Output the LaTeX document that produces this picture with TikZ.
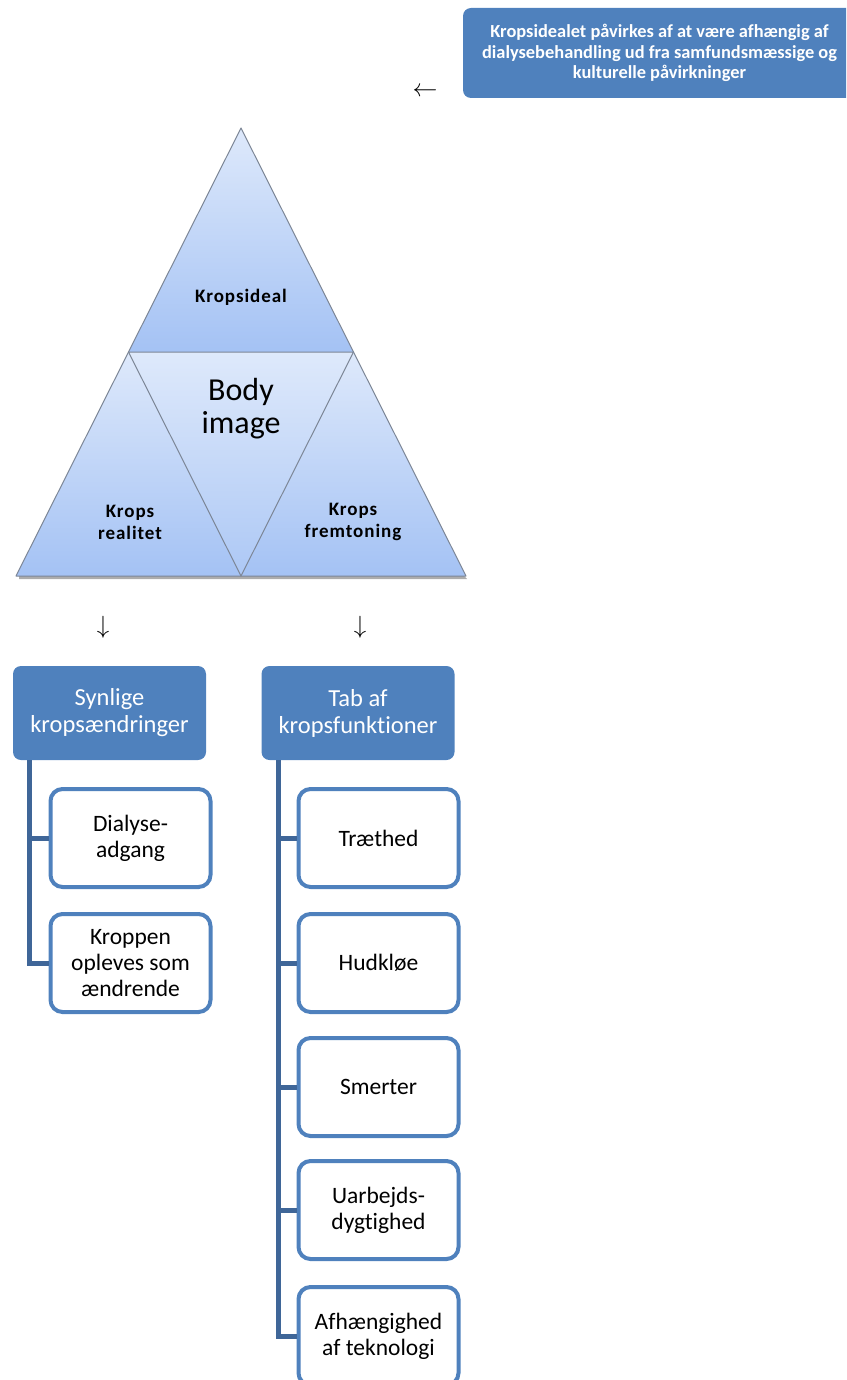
\documentclass[tikz,border=0pt]{standalone}
\usepackage{fontspec}
\setmainfont{Carlito}[Ligatures=NoCommon]
\usetikzlibrary{calc}

\definecolor{hdrblue}{HTML}{4F81BD}
\definecolor{connblue}{HTML}{3F6698}
\definecolor{tritop}{HTML}{DEE9FB}
\definecolor{tribot}{HTML}{A4C2F4}
\definecolor{triedge}{HTML}{7C8696}

\tikzset{
  header/.style={draw=none, fill=hdrblue, rounded corners=8pt, text=white,
    align=center, minimum width=193pt, minimum height=94pt, inner sep=2pt,
    font=\fontsize{24.5}{27}\selectfont},
  item/.style={draw=hdrblue, line width=4pt, fill=white, rounded corners=12pt,
    align=center, minimum width=160pt, minimum height=98pt, inner sep=2pt,
    font=\fontsize{23.5}{26}\selectfont},
  note/.style={fill=hdrblue, rounded corners=8pt, text=white, align=center,
    minimum width=393pt, minimum height=90pt, inner sep=2pt,
    font=\bfseries\fontsize{18.4}{20.5}\selectfont},
  conn/.style={draw=connblue, line width=5pt, line join=miter},
  triface/.style={top color=tritop, bottom color=tribot},
  tripart/.style={draw=triedge, line width=1pt, line join=round},
  trilabel/.style={align=center,
    font=\bfseries\fontsize{19}{22}\selectfont\addfontfeature{LetterSpace=5}},
  textarrow/.style={inner sep=0pt, font=\fontsize{31}{31}\selectfont},
}

\begin{document}
\begin{tikzpicture}[x=1pt, y=-1pt]
\useasboundingbox (0,0) rectangle (846,1380);
\clip (0,0) rectangle (846,1380);

% note box at the top right
\node[note] (note) at (659.5,53)
  {Kropsidealet påvirkes af at være afhængig af\\
   dialysebehandling ud fra samfundsmæssige og\\
   kulturelle påvirkninger};
\node[textarrow] (larr) at (425,92) {$\leftarrow$};

% triangle corners
\coordinate (apex) at (241,128);
\coordinate (bl) at (16,576);
\coordinate (br) at (466,576);
\coordinate (ml) at (128.5,352);
\coordinate (mr) at (353.5,352);
\coordinate (bm) at (241,576);

% soft shadow under the triangle
\fill[gray!65] ($(bl)+(3,3)$) -- ($(br)+(1,3)$) -- ($(br)+(-2,0)$) -- ($(bl)+(3,0)$) -- cycle;

% the four sub-triangles
\shade[triface] (apex) -- (ml) -- (mr) -- cycle;
\shade[triface] (ml) -- (bl) -- (bm) -- cycle;
\shade[triface] (mr) -- (bm) -- (br) -- cycle;
\shade[top color=tritop, bottom color=tribot!85!tritop] (ml) -- (mr) -- (bm) -- cycle;

\draw[tripart] (apex) -- (bl) -- (br) -- cycle;
\draw[tripart] (ml) -- (mr) -- (bm) -- cycle;

\node[trilabel] (ideal) at (241,297) {Kropsideal};
\node[align=center, font=\fontsize{32}{33}\selectfont] (body) at (241,409) {Body\\image};
\node[trilabel] (real) at (130,522) {Krops\\realitet};
\node[trilabel] (frem) at (353,522) {Krops\\fremtoning};

% down arrows
\node[textarrow] (darrL) at (103,627) {$\downarrow$};
\node[textarrow] (darrR) at (360,627) {$\downarrow$};

% headers
\node[header] (hdrL) at (109.5,713) {Synlige\\kropsændringer};
\node[header] (hdrR) at (358,713) {Tab af\\kropsfunktioner};

% left branch
\node[item] (dial) at (130.5,838) {Dialyse-\\adgang};
\node[item] (krop) at (130.5,963) {Kroppen\\opleves som\\ændrende};

% right branch
\node[item] (trae) at (378.5,838) {Træthed};
\node[item] (hud)  at (378.5,963) {Hudkløe};
\node[item] (smer) at (378.5,1087) {Smerter};
\node[item] (uarb) at (378.5,1210) {Uarbejds-\\dygtighed};
\node[item] (afh)  at (378.5,1336) {Afhængighed\\af teknologi};

% connectors
\coordinate (jL) at ($(hdrL.south west)+(17,0)$);
\coordinate (jR) at ($(hdrR.south west)+(17,0)$);
\draw[conn] (jL) |- (dial.west);
\draw[conn] (jL) |- (krop.west);
\draw[conn] (jR) |- (trae.west);
\draw[conn] (jR) |- (hud.west);
\draw[conn] (jR) |- (smer.west);
\draw[conn] (jR) |- (uarb.west);
\draw[conn] (jR) |- (afh.west);
\end{tikzpicture}
\end{document}
